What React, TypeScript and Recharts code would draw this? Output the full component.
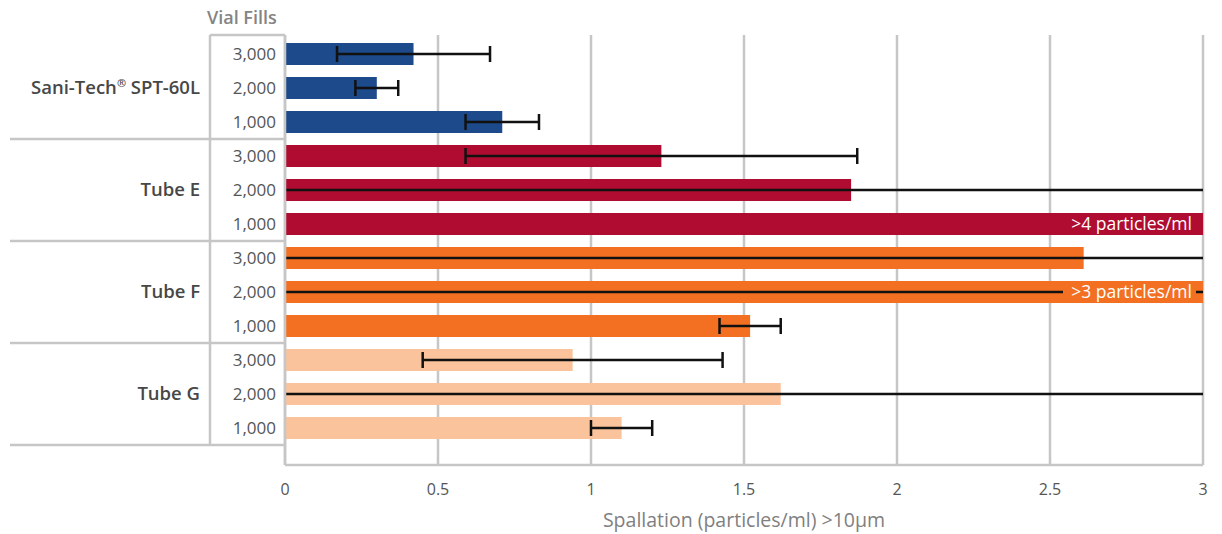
import { BarChart, Bar, XAxis, YAxis, CartesianGrid, Cell, LabelList } from "recharts";

const groups = ["Sani-Tech® SPT-60L", "Tube E", "Tube F", "Tube G"];
const vialFills = ["3,000", "2,000", "1,000"];
const groupColors = ["#1D4A8A", "#B00C32", "#F37022", "#FBC39B"];

// spallation per group, listed in vial fill order 3,000 / 2,000 / 1,000
const spallation = [
  [0.42, 0.3, 0.71],
  [1.23, 1.85, 4.2],
  [2.61, 3.2, 1.52],
  [0.94, 1.62, 1.1],
];
const errors = [
  [0.25, 0.07, 0.12],
  [0.64, 1.9, 0],
  [2.7, 3.3, 0.1],
  [0.49, 1.7, 0.1],
];
const notes = [
  ["", "", ""],
  ["", "", ">4 particles/ml"],
  ["", ">3 particles/ml", ""],
  ["", "", ""],
];
const xTicks = [0, 0.5, 1, 1.5, 2, 2.5, 3];

const WIDTH = 1222;
const HEIGHT = 534;
const MARGIN = { top: 35, right: 19, bottom: 0, left: 210 };
const AXIS_X = 285;
const X_AXIS_H = 69;
const PLOT_RIGHT = WIDTH - MARGIN.right;
const ROW_HALF = 17;
const FONT = "'Open Sans', sans-serif";
const GRID = "#c6c6c6";

const rows = groups.flatMap((g, gi) =>
  vialFills.map((v, vi) => ({
    id: `${gi}-${vi}`,
    group: g,
    groupIdx: gi,
    fill: v,
    fillIdx: vi,
    value: spallation[gi][vi],
    err: errors[gi][vi],
    note: notes[gi][vi],
    color: groupColors[gi],
  }))
);

const RowTick = (props: any) => {
  const { y, payload, index } = props;
  const row = rows.find((r) => r.id === payload.value) || rows[index];
  const last = row === rows[rows.length - 1];
  return (
    <g>
      {index === 0 && (
        <>
          <text x={207} y={MARGIN.top - 17} dy="0.35em" fill="#848484" fontSize={18} fontWeight={600} fontFamily={FONT}>
            Vial Fills
          </text>
          <line x1={210} x2={AXIS_X} y1={MARGIN.top} y2={MARGIN.top} stroke={GRID} strokeWidth={2.5} />
        </>
      )}
      <text x={AXIS_X - 9} y={y} dy="0.35em" textAnchor="end" fill="#555" fontSize={17} fontFamily={FONT}>
        {row.fill}
      </text>
      {row.fillIdx === 1 && (
        <text x={200} y={y} dy="0.35em" textAnchor="end" fill="#474747" fontSize={18.5} fontWeight={600} fontFamily={FONT}>
          {row.group.includes("®") ? (
            <>
              {row.group.split("®")[0]}
              <tspan fontSize={11} dy={-7}>®</tspan>
              <tspan dy={7}>{row.group.split("®")[1]}</tspan>
            </>
          ) : (
            row.group
          )}
        </text>
      )}
      {row.fillIdx === 2 && (
        <line x1={10} x2={AXIS_X} y1={y + ROW_HALF} y2={y + ROW_HALF} stroke={GRID} strokeWidth={2.5} />
      )}
      {last && <line x1={210} x2={210} y1={MARGIN.top} y2={y + ROW_HALF} stroke={GRID} strokeWidth={2.5} />}
    </g>
  );
};

// bar plus its error bar, drawn in the bar's clipped layer so open-ended errors stop at the plot edge
const BarWithError = (props: any) => {
  const { x, y, width, height, payload } = props;
  const perUnit = payload.value ? width / payload.value : 0;
  const cy = y + height / 2;
  const end = x + width;
  const e = payload.err * perUnit;
  return (
    <g>
      <rect x={x} y={y} width={width} height={height} fill={payload.color} />
      {payload.err > 0 && (
        <g stroke="#111" strokeWidth={2.5}>
          <line x1={end - e} x2={end + e} y1={cy} y2={cy} />
          <line x1={end - e} x2={end - e} y1={cy - 8} y2={cy + 8} />
          <line x1={end + e} x2={end + e} y1={cy - 8} y2={cy + 8} />
        </g>
      )}
    </g>
  );
};

const NoteLabel = (props: any) => {
  const { x, y, width, height, value, index } = props;
  if (!value) return null;
  const right = Math.min(x + width, PLOT_RIGHT);
  const color = rows[index]?.color ?? "#000";
  return (
    <g>
      <rect x={right - 140} y={y} width={133} height={height} fill={color} />
      <text x={right - 11} y={y + height / 2} dy="0.35em" textAnchor="end" fill="#fff" fontSize={17.5} fontFamily={FONT}>
        {value}
      </text>
    </g>
  );
};

export default function App() {
  return (
    <div style={{ position: "absolute", left: 0, top: 0, background: "#fff" }}>
      <BarChart width={WIDTH} height={HEIGHT} data={rows} layout="vertical" margin={MARGIN} barSize={22}>
        <CartesianGrid horizontal={false} stroke={GRID} strokeWidth={2.5} />
        <XAxis
          type="number"
          domain={[0, 3]}
          ticks={xTicks}
          allowDataOverflow
          axisLine={{ stroke: GRID, strokeWidth: 2.5 }}
          tickLine={false}
          tickMargin={13}
          tick={{ fill: "#555", fontSize: 16, fontFamily: FONT }}
          label={{
            value: "Spallation (particles/ml) >10µm",
            position: "insideBottom",
            offset: 7,
            fill: "#808080",
            fontSize: 19.5,
            fontFamily: FONT,
          }}
          height={X_AXIS_H}
        />
        <XAxis
          xAxisId="top"
          orientation="top"
          type="number"
          domain={[0, 3]}
          tick={false}
          tickLine={false}
          axisLine={{ stroke: GRID, strokeWidth: 2.5 }}
          height={0}
        />
        <YAxis
          type="category"
          dataKey="id"
          width={AXIS_X - MARGIN.left}
          interval={0}
          padding={{ top: 2, bottom: 20 }}
          axisLine={{ stroke: GRID, strokeWidth: 2.5 }}
          tickLine={false}
          tick={<RowTick />}
        />
        <Bar dataKey="value" isAnimationActive={false} shape={<BarWithError />}>
          {rows.map((r) => (
            <Cell key={r.id} fill={r.color} />
          ))}
          <LabelList dataKey="note" content={<NoteLabel />} />
        </Bar>
      </BarChart>
    </div>
  );
}
